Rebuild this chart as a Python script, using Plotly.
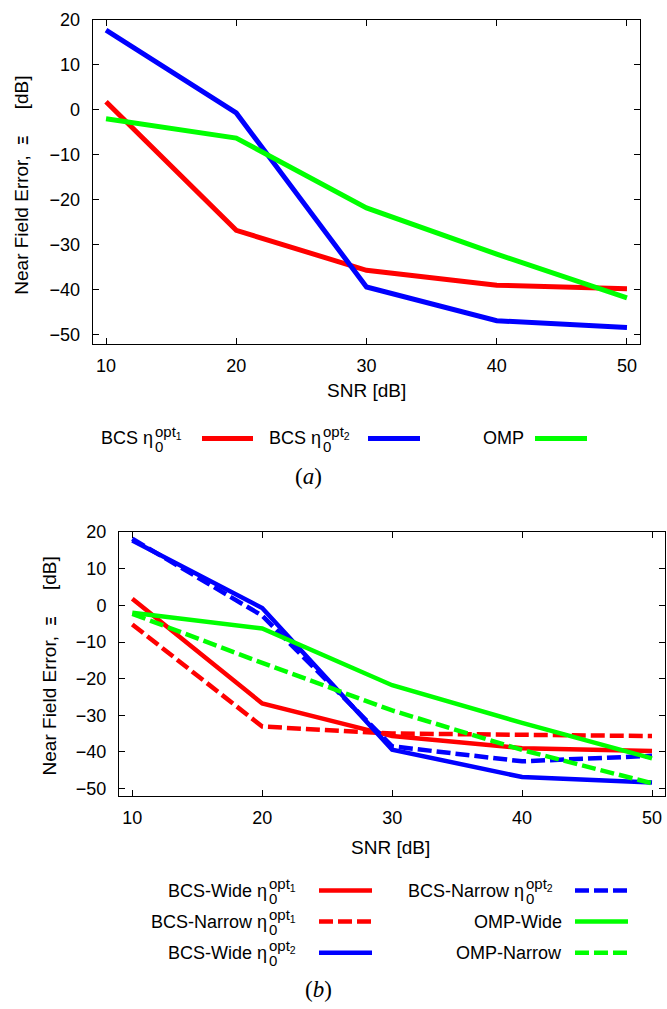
import plotly.graph_objects as go

# ---------------- data ----------------
snr = [10, 20, 30, 40, 50]
bcs_opt1_wide = [1.8, -26.8, -35.7, -39.0, -39.8]
bcs_opt2_wide = [17.7, -0.7, -39.4, -46.9, -48.4]
omp_wide = [-2.0, -6.3, -21.8, -32.1, -41.8]
bcs_opt1_narrow = [-5.2, -33.1, -35.0, -35.5, -35.7]
bcs_opt2_narrow = [18.2, -2.8, -38.5, -42.6, -41.1]
omp_narrow = [-2.3, -15.7, -28.7, -39.5, -48.6]

x_ticks = [10, 20, 30, 40, 50]
y_ticks = [20, 10, 0, -10, -20, -30, -40, -50]
x_title = "SNR [dB]"
y_title = ("Near Field Error,\u00a0\u00a0<span style='font-size:14px'><b>Ξ</b></span>"
           "\u00a0\u00a0\u00a0\u00a0\u00a0[dB]")
captions = ["<i>a</i>", "<i>b</i>"]

RED, BLUE, GREEN = "#ff0000", "#0000ff", "#00ff00"
W, H = 667, 1009
FONT = "Liberation Sans"
FS = 18


def px(x):
    return x / W


def py(y):
    return 1 - y / H


fig = go.Figure()

# ---- panel (a) ----
for ys, col in [(bcs_opt1_wide, RED), (bcs_opt2_wide, BLUE), (omp_wide, GREEN)]:
    fig.add_trace(go.Scatter(x=snr, y=ys, mode="lines", xaxis="x", yaxis="y",
                             line=dict(color=col, width=5), showlegend=False,
                             hoverinfo="skip"))

# ---- panel (b) ----
panel_b = [
    (bcs_opt1_wide, RED, "solid"),
    (bcs_opt1_narrow, RED, "14px,5px"),
    (bcs_opt2_wide, BLUE, "solid"),
    (bcs_opt2_narrow, BLUE, "14px,5px"),
    (omp_wide, GREEN, "solid"),
    (omp_narrow, GREEN, "14px,5px"),
]
for ys, col, dash in panel_b:
    fig.add_trace(go.Scatter(x=snr, y=ys, mode="lines", xaxis="x2", yaxis="y2",
                             line=dict(color=col, width=4.5, dash=dash),
                             showlegend=False, hoverinfo="skip"))

axis_common = dict(
    ticks="inside", ticklen=6, tickwidth=1, tickcolor="black",
    showline=True, linecolor="black", linewidth=1.3, mirror="ticks",
    showgrid=False, zeroline=False,
    tickfont=dict(family=FONT, size=FS, color="black"),
)
xa = dict(axis_common, range=[9, 51], tickvals=x_ticks, ticklabelstandoff=5)
ya = dict(axis_common, range=[-52, 20], tickvals=y_ticks, ticklabelstandoff=8)

fig.update_layout(
    width=W, height=H, autosize=False,
    margin=dict(l=0, r=0, t=0, b=0),
    paper_bgcolor="white", plot_bgcolor="white",
    xaxis=dict(xa, domain=[px(93), px(640)], anchor="y"),
    yaxis=dict(ya, domain=[py(338), py(10)], anchor="x"),
    xaxis2=dict(xa, domain=[px(119.3), px(665)], anchor="y2"),
    yaxis2=dict(ya, domain=[py(796), py(529)], anchor="x2"),
)

ann = []
shapes = []


def text(x, y, t, xanchor="center", size=FS, family=FONT, angle=0):
    ann.append(dict(x=px(x), y=py(y), xref="paper", yref="paper", text=t,
                    showarrow=False, xanchor=xanchor, yanchor="middle",
                    textangle=angle, borderpad=0,
                    font=dict(family=family, size=size, color="black")))


def eta_label(xs, y, main, idx):
    # main text right-aligned to xs, stacked sub "0" and sup "opt_idx"
    text(xs, y, main + " η", xanchor="right")
    text(xs, y + 8, "0", xanchor="left", size=15)
    text(xs, y - 6, "opt<sub>%d</sub>" % idx, xanchor="left", size=15)


def sample(x0, x1, y, col, dash="solid", w=5):
    shapes.append(dict(type="line", xref="paper", yref="paper",
                       x0=px(x0), x1=px(x1), y0=py(y), y1=py(y),
                       line=dict(color=col, width=w, dash=dash)))


# axis titles
text(366.5, 385, x_title, size=19)
text(22, 178, y_title, angle=-90, size=19)
text(390, 848, x_title, size=19)
text(49, 665, y_title, angle=-90, size=19)

# legend (a)
ly = 434
eta_label(154, ly, "BCS", 1)
sample(202, 253, ly, RED)
eta_label(322, ly, "BCS", 2)
sample(368, 420, ly, BLUE)
text(525, ly, "OMP", xanchor="right")
sample(535, 587, ly, GREEN)

# legend (b)
rows = [892, 923.5, 955]
eta_label(268, rows[0], "BCS-Wide", 1)
sample(319, 372, rows[0], RED, w=4.5)
eta_label(268, rows[1], "BCS-Narrow", 1)
sample(319, 372, rows[1], RED, "14px,5px", w=4.5)
eta_label(268, rows[2], "BCS-Wide", 2)
sample(319, 372, rows[2], BLUE, w=4.5)
eta_label(525, rows[0], "BCS-Narrow", 2)
sample(575, 628, rows[0], BLUE, "14px,5px", w=4.5)
text(563, rows[1], "OMP-Wide", xanchor="right")
sample(575, 628, rows[1], GREEN, w=4.5)
text(563, rows[2], "OMP-Narrow", xanchor="right")
sample(575, 628, rows[2], GREEN, "14px,5px", w=4.5)

# captions
text(308.5, 473, "(" + captions[0] + ")", size=23, family="Liberation Serif")
text(318.5, 992, "(" + captions[1] + ")", size=23, family="Liberation Serif")

fig.update_layout(annotations=ann, shapes=shapes)
fig.write_html(
    "out.html",
    config={"displayModeBar": False, "staticPlot": True},
    post_script="document.body.style.margin='0';"
                "document.body.style.overflow='hidden';",
)
